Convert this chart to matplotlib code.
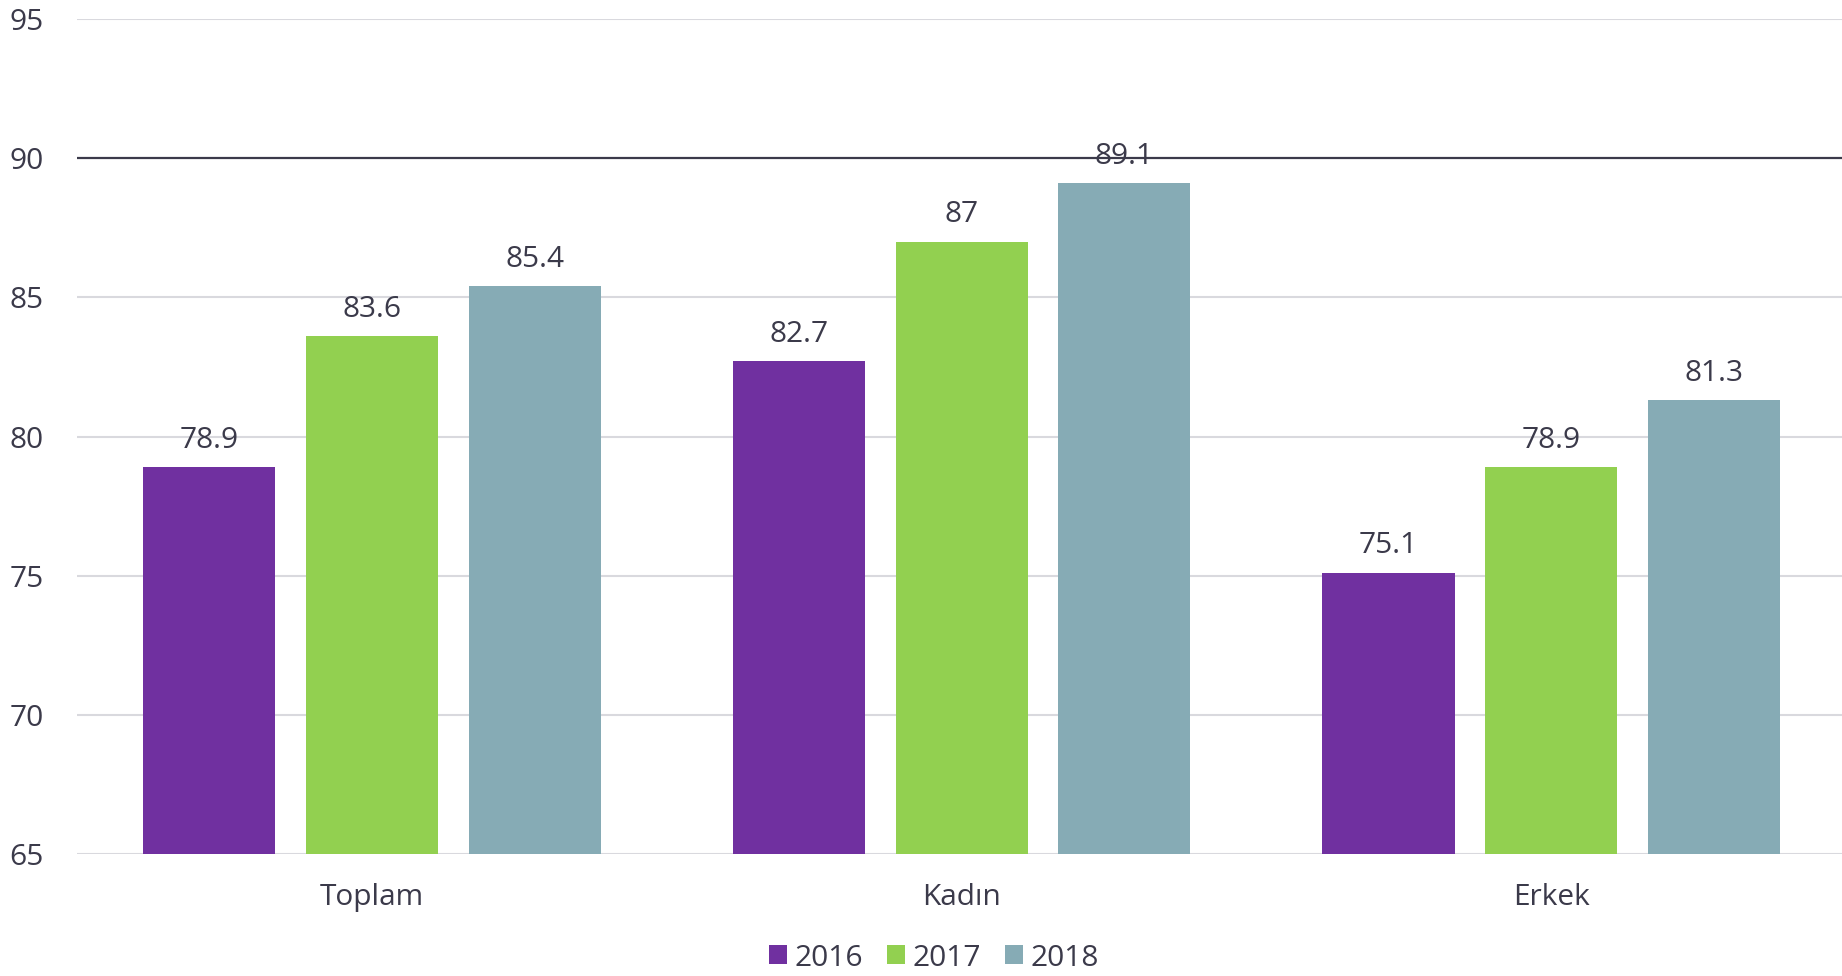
import matplotlib
matplotlib.use("Agg")
import matplotlib.pyplot as plt
import numpy as np

categories = ["Toplam", "Kadın", "Erkek"]
years = ["2016", "2017", "2018"]
values_2016 = [78.9, 82.7, 75.1]
values_2017 = [83.6, 87.0, 78.9]
values_2018 = [85.4, 89.1, 81.3]
series = [values_2016, values_2017, values_2018]
colors = ["#7030a0", "#92d050", "#86abb5"]
yticks = [65, 70, 75, 80, 85, 90, 95]

plt.rcParams['font.family'] = ['Open Sans', 'DejaVu Sans']
text_color = "#3b3a4a"
fs = 21.5

fig = plt.figure(figsize=(18.42, 9.76), dpi=100)
ax = fig.add_axes([77/1842, 1-854/976, 1-77/1842, (854-19)/976])

x = np.arange(len(categories))
width = 0.224
step = 0.276
for i, (vals, col, yr) in enumerate(zip(series, colors, years)):
    pos = x + (i - 1) * step
    ax.bar(pos, [v - 65 for v in vals], width, bottom=65, color=col, label=yr, zorder=3)
    for p, v in zip(pos, vals):
        lab = f"{v:g}"
        ax.annotate(lab, (p, v), xytext=(0, 9), textcoords="offset points",
                    ha="center", va="bottom", fontsize=fs, color=text_color, zorder=4)

ax.set_xlim(-0.5, 2.493)
ax.set_ylim(65, 95)
ax.set_yticks(yticks)
ax.set_yticklabels([str(t) for t in yticks], fontsize=fs, color=text_color)
ax.set_xticks(x)
ax.set_xticklabels(categories, fontsize=fs, color=text_color)
ax.tick_params(axis='both', length=0)
ax.tick_params(axis='y', pad=24)
ax.tick_params(axis='x', pad=21)
for s in ax.spines.values():
    s.set_visible(False)
for t in yticks:
    if t == 90:
        ax.axhline(t, color="#3b3a4a", lw=1.6, zorder=2)
    else:
        ax.axhline(t, color="#d9d9de", lw=1.5, zorder=2)

leg = fig.legend(loc="center", bbox_to_anchor=(934/1842, 1-958/976), ncol=3, frameon=False,
                 fontsize=fs, handlelength=0.6, handleheight=0.6, handletextpad=0.25,
                 columnspacing=0.8, labelcolor=text_color)

fig.savefig("out.png", dpi=100)
